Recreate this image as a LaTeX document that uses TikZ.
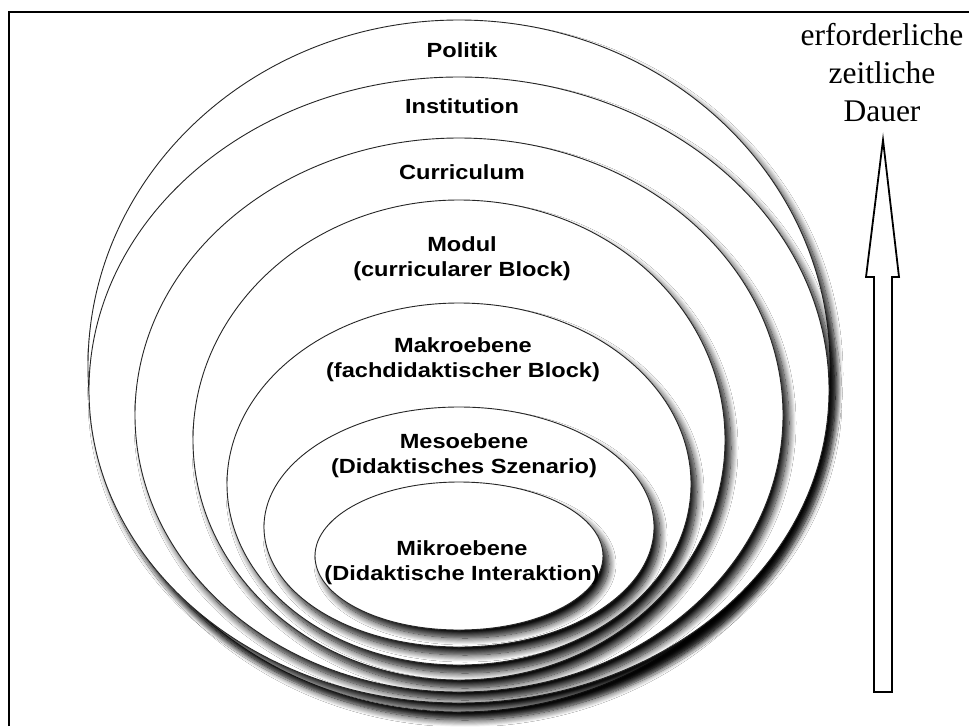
\documentclass[tikz,border=0pt]{standalone}
\usepackage{fontspec}
\setmainfont{Liberation Serif}
\newfontfamily\labelfont{Liberation Sans}[FakeStretch=1.15]
\usetikzlibrary{shadows.blur}

\begin{document}
\begin{tikzpicture}[x=1pt, y=-1pt,
  ring/.style={draw=black!85, line width=0.9pt, fill=white,
    blur shadow={shadow xshift=6pt, shadow yshift=-8pt,
                 shadow blur radius=7pt, shadow blur steps=14,
                 shadow opacity=95}},
  lvl/.style={font=\labelfont\bfseries\fontsize{20.5}{24.5}\selectfont,
              align=center, inner sep=0pt, anchor=base},
  side/.style={font=\fontsize{31.5}{38}\selectfont, align=center,
               inner sep=0pt, anchor=base},
  hollow/.style={draw=black, line width=1.8pt, fill=white, line join=miter}
]
  % page area
  \useasboundingbox (0,0) rectangle (969,726);
  \fill[white] (0,0) rectangle (969,726);

  % open frame along the top and left edge
  \coordinate (fbl) at (9,726);
  \coordinate (ftl) at (9,12);
  \coordinate (ftr) at (969,12);
  \draw[line width=2.3pt, line join=miter] (fbl) -- (ftl) -- (ftr);

  % nested levels, outermost first
  \path[ring] (459,366) ellipse [x radius=371, y radius=346];
  \path[ring] (459,390) ellipse [x radius=370, y radius=313];
  \path[ring] (459,415) ellipse [x radius=324, y radius=277];
  \path[ring] (459,440) ellipse [x radius=266, y radius=240];
  \path[ring] (459,484) ellipse [x radius=232, y radius=181];
  \path[ring] (459,527) ellipse [x radius=195, y radius=120];
  \path[ring] (459,556) ellipse [x radius=144, y radius=74];

  % level labels (multi-line nodes sit on their last baseline)
  \node[lvl] (politik)     at (462,57)  {Politik};
  \node[lvl] (institution) at (462,113) {Institution};
  \node[lvl] (curriculum)  at (462,179) {Curriculum};
  \node[lvl] (modul)       at (462,276) {Modul\\(curricularer Block)};
  \node[lvl] (makro)       at (463,377) {Makroebene\\(fachdidaktischer Block)};
  \node[lvl] (meso)        at (464,473) {Mesoebene\\(Didaktisches Szenario)};
  \node[lvl] (mikro)       at (462,580) {Mikroebene\\(Didaktische Interaktion)};

  % time axis: hollow block arrow
  \node[side] (dauer) at (882,121) {erforderliche\\zeitliche\\Dauer};
  \coordinate (tip) at (883,140);
  \coordinate (hl) at (866,277);
  \coordinate (hr) at (899,277);
  \coordinate (sl) at (874,277);
  \coordinate (sr) at (892,277);
  \coordinate (bl) at (874,692);
  \coordinate (br) at (892,692);
  \draw[hollow] (tip) -- (hr) -- (sr) -- (br) -- (bl) -- (sl) -- (hl) -- cycle;
\end{tikzpicture}
\end{document}
